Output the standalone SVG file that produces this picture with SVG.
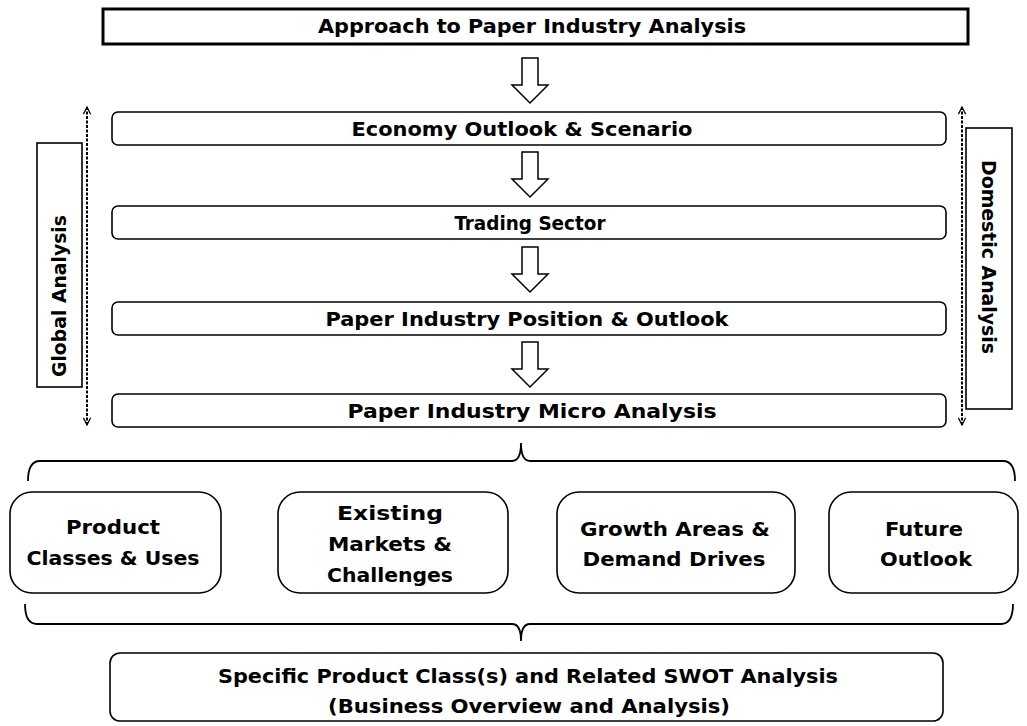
<svg xmlns="http://www.w3.org/2000/svg" width="1027" height="726" viewBox="0 0 1027 726">
<defs>
<style>
.box{fill:#fff;stroke:#000;stroke-width:1.6}
.cond{font-family:"DejaVu Sans Condensed","DejaVu Sans",sans-serif;font-weight:bold;font-size:19px;fill:#000;text-anchor:middle;font-stretch:condensed}
.wide{font-family:"DejaVu Sans","Verdana",sans-serif;font-weight:bold;font-size:19px;fill:#000;text-anchor:middle}
.arr{fill:#fff;stroke:#000;stroke-width:1.5;stroke-linejoin:miter}
.dash{stroke:#000;stroke-width:2;stroke-dasharray:3,1.5;fill:none}
.brace{fill:none;stroke:#000;stroke-width:1.8}
</style>
<marker id="ah" viewBox="0 0 10 10" refX="9" refY="5" markerWidth="9" markerHeight="9" orient="auto-start-reverse" markerUnits="userSpaceOnUse">
<path d="M1 1 L9 5 L1 9" fill="none" stroke="#000" stroke-width="1.4"/>
</marker>
</defs>
<rect width="1027" height="726" fill="#fff"/>

<g id="approach">
<rect x="103" y="9" width="865" height="35" fill="#fff" stroke="#000" stroke-width="3"/>
<text class="cond" x="532" y="33" textLength="428" lengthAdjust="spacingAndGlyphs">Approach to Paper Industry Analysis</text>
</g>

<g id="economy">
<rect class="box" x="112" y="112" width="834" height="33" rx="6"/>
<text class="cond" x="522" y="136" textLength="341" lengthAdjust="spacingAndGlyphs">Economy Outlook &amp; Scenario</text>
</g>

<g id="trading">
<rect class="box" x="112" y="206" width="834" height="33" rx="6"/>
<text class="cond" x="530" y="230" textLength="151" lengthAdjust="spacingAndGlyphs">Trading Sector</text>
</g>

<g id="position">
<rect class="box" x="112" y="302" width="834" height="33" rx="6"/>
<text class="cond" x="527" y="326" textLength="403" lengthAdjust="spacingAndGlyphs">Paper Industry Position &amp; Outlook</text>
</g>

<g id="micro">
<rect class="box" x="112" y="394" width="834" height="33" rx="6"/>
<text class="cond" x="532" y="418" textLength="369" lengthAdjust="spacingAndGlyphs">Paper Industry Micro Analysis</text>
</g>

<g id="global">
<rect class="box" x="37" y="143" width="45" height="244"/>
<text class="cond" transform="translate(66,296) rotate(-90)" x="0" y="0" textLength="162" lengthAdjust="spacingAndGlyphs">Global Analysis</text>
</g>

<g id="domestic">
<rect class="box" x="966" y="128" width="46" height="281"/>
<text class="cond" transform="translate(982,257) rotate(90)" x="0" y="0" textLength="194" lengthAdjust="spacingAndGlyphs">Domestic Analysis</text>
</g>

<g id="product">
<rect class="box" x="10" y="492" width="211" height="101" rx="22"/>
<text class="wide" x="113" y="534" textLength="94" lengthAdjust="spacingAndGlyphs">Product</text>
<text class="wide" x="113" y="565" textLength="173" lengthAdjust="spacingAndGlyphs">Classes &amp; Uses</text>
</g>

<g id="existing">
<rect class="box" x="278" y="492" width="230" height="101" rx="22"/>
<text class="wide" x="390" y="520" textLength="106" lengthAdjust="spacingAndGlyphs">Existing</text>
<text class="wide" x="390" y="551" textLength="124" lengthAdjust="spacingAndGlyphs">Markets &amp;</text>
<text class="wide" x="390" y="582" textLength="126" lengthAdjust="spacingAndGlyphs">Challenges</text>
</g>

<g id="growth">
<rect class="box" x="557" y="492" width="238" height="101" rx="22"/>
<text class="wide" x="675" y="536" textLength="190" lengthAdjust="spacingAndGlyphs">Growth Areas &amp;</text>
<text class="wide" x="674" y="566" textLength="183" lengthAdjust="spacingAndGlyphs">Demand Drives</text>
</g>

<g id="future">
<rect class="box" x="829" y="492" width="189" height="101" rx="22"/>
<text class="wide" x="924" y="536" textLength="78" lengthAdjust="spacingAndGlyphs">Future</text>
<text class="wide" x="926" y="566" textLength="92" lengthAdjust="spacingAndGlyphs">Outlook</text>
</g>

<g id="swot">
<rect class="box" x="110" y="653" width="833" height="68" rx="10"/>
<text class="cond" x="528" y="683" textLength="620" lengthAdjust="spacingAndGlyphs">Specific Product Class(s) and Related SWOT Analysis</text>
<text class="cond" x="529" y="713" textLength="402" lengthAdjust="spacingAndGlyphs">(Business Overview and Analysis)</text>
</g>

<g id="connectors">
<path class="arr" d="M522 58 H538 V85 H548 L530 103 L512 85 H522 Z"/>
<path class="arr" d="M522 152 H538 V179 H548 L530 197 L512 179 H522 Z"/>
<path class="arr" d="M522 247 H538 V274 H548 L530 292 L512 274 H522 Z"/>
<path class="arr" d="M522 342 H538 V369 H548 L530 387 L512 369 H522 Z"/>
<line class="dash" x1="87" y1="107" x2="87" y2="425" marker-start="url(#ah)" marker-end="url(#ah)"/>
<line class="dash" x1="962" y1="107" x2="962" y2="425" marker-start="url(#ah)" marker-end="url(#ah)"/>
<path class="brace" d="M28 481 Q28 461 40 461 L512 461 Q521 461 521 443 Q521 461 530 461 L1003 461 Q1015 461 1015 481"/>
<path class="brace" d="M25 604 Q25 624 37 624 L512 624 Q521 624 521 641 Q521 624 530 624 L1001 624 Q1013 624 1013 604" stroke="#444" stroke-width="2.4"/>
</g>
</svg>
